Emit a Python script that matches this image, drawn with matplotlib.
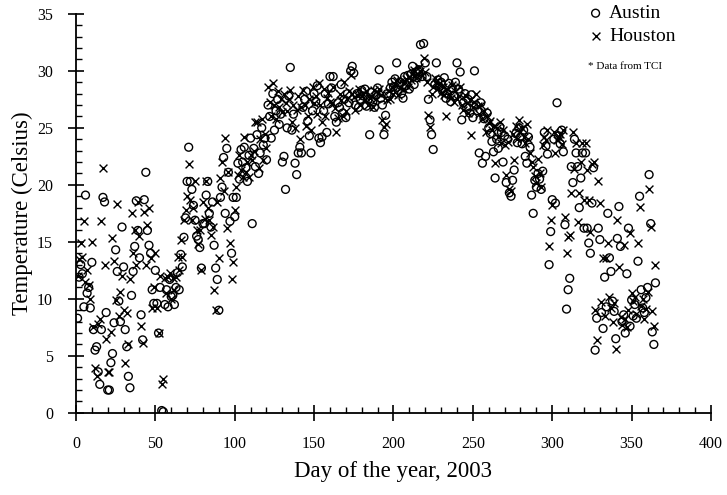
import numpy as np
import matplotlib
matplotlib.use("Agg")
import matplotlib.pyplot as plt
from matplotlib.ticker import MultipleLocator

plt.rcParams["font.family"] = ["Liberation Serif", "DejaVu Serif"]

days = np.arange(1, 366)

# daily temperatures (deg C), ten days per row
austin = [
    8.3, 11.9, 13.0, 12.2, 9.3, 19.1, 10.5, 11.0, 9.2, 13.2,
    7.3, 5.5, 5.8, 3.6, 2.5, 7.3, 18.9, 18.5, 8.8, 2.0,
    2.0, 4.4, 5.2, 7.9, 14.3, 12.4, 9.8, 8.0, 16.3, 12.8,
    7.3, 5.8, 3.2, 2.2, 10.3, 12.4, 14.6, 18.6, 16.0, 13.6,
    8.6, 6.4, 18.7, 21.1, 16.0, 14.7, 14.0, 10.8, 9.6, 12.5,
    9.6, 7.0, 11.0, 0.2, 0.1, 9.5, 10.8, 9.3, 11.7, 10.2,
    10.3, 9.5, 11.0, 12.3, 10.8, 13.9, 12.8, 15.4, 17.1, 20.3,
    23.3, 20.3, 19.6, 18.2, 16.9, 15.5, 15.2, 14.5, 12.7, 16.6,
    16.6, 19.1, 20.3, 17.5, 16.3, 18.5, 14.7, 12.7, 11.7, 9.0,
    18.9, 19.8, 22.4, 17.5, 23.2, 21.1, 16.8, 14.0, 18.9, 17.2,
    18.9, 21.9, 20.5, 23.1, 22.0, 23.3, 21.5, 20.3, 22.6, 24.1,
    16.6, 23.2, 21.6, 24.4, 21.0, 22.8, 25.0, 23.5, 24.1, 22.2,
    27.0, 26.0, 24.1, 28.0, 24.8, 26.5, 27.5, 25.3, 26.2, 22.0,
    22.5, 19.6, 25.0, 27.8, 30.3, 24.8, 26.2, 21.9, 20.9, 22.8,
    23.3, 22.8, 26.8, 27.5, 28.2, 25.6, 24.3, 22.8, 26.5, 28.0,
    27.3, 28.7, 24.1, 23.7, 24.2, 26.5, 28.0, 24.6, 27.1, 29.5,
    28.5, 29.5, 26.0, 25.5, 27.2, 26.8, 28.8, 26.3, 27.5, 25.9,
    28.0, 27.2, 30.0, 30.4, 29.8, 27.0, 28.0, 26.8, 27.5, 28.3,
    27.8, 28.4, 26.9, 27.5, 24.4, 28.1, 27.3, 26.8, 27.9, 28.5,
    30.1, 27.6, 27.0, 24.4, 26.1, 28.0, 27.8, 28.5, 29.0, 28.6,
    29.3, 30.7, 28.3, 29.0, 28.0, 27.6, 29.5, 28.7, 29.6, 28.4,
    29.7, 30.4, 28.8, 29.9, 29.4, 30.1, 32.3, 29.5, 32.4, 30.7,
    29.5, 27.5, 25.7, 24.4, 23.1, 28.8, 30.7, 29.2, 28.6, 29.0,
    28.2, 29.4, 27.6, 28.0, 28.9, 27.3, 28.5, 27.8, 29.0, 30.7,
    28.4, 29.9, 25.7, 27.2, 28.0, 26.8, 27.5, 26.3, 27.9, 25.9,
    30.0, 27.0, 26.5, 22.8, 27.2, 21.9, 25.8, 22.5, 26.3, 25.0,
    24.5, 23.8, 22.9, 20.6, 24.0, 23.2, 25.1, 24.6, 22.0, 24.3,
    20.2, 24.0, 19.3, 19.0, 20.4, 21.3, 24.5, 23.7, 25.0, 24.2,
    23.6, 24.8, 22.5, 21.9, 24.2, 23.3, 19.1, 17.5, 20.4, 19.8,
    21.0, 20.5, 19.6, 21.2, 24.6, 23.4, 22.7, 13.0, 15.9, 18.7,
    24.0, 18.4, 27.2, 24.3, 23.6, 24.8, 22.9, 16.5, 9.1, 10.8,
    11.8, 21.6, 20.2, 24.0, 22.8, 21.6, 18.0, 20.6, 22.8, 16.2,
    22.8, 16.2, 14.9, 14.0, 18.4, 21.5, 5.5, 8.3, 16.2, 15.2,
    8.8, 7.4, 11.9, 9.3, 17.5, 13.6, 12.4, 9.8, 8.9, 6.5,
    15.3, 18.1, 14.6, 8.0, 8.6, 7.0, 12.2, 16.2, 7.6, 9.9,
    8.5, 9.5, 8.3, 13.3, 19.0, 10.8, 9.2, 8.8, 10.1, 11.0,
    20.9, 16.6, 7.1, 6.0, 11.4,
]

houston = [
    12.0, 13.5, 14.9, 13.7, 16.8, 11.5, 12.5, 11.2, 10.0, 15.0,
    7.5, 3.9, 3.2, 7.8, 8.2, 16.8, 21.5, 13.0, 6.5, 3.6,
    3.6, 7.1, 15.3, 13.3, 9.9, 18.3, 8.5, 10.6, 12.0, 9.0,
    4.4, 8.8, 6.0, 11.7, 17.5, 14.0, 16.0, 13.0, 18.5, 15.5,
    7.6, 6.1, 17.6, 13.0, 16.5, 18.0, 13.6, 9.2, 11.0, 14.0,
    9.2, 7.0, 12.0, 2.5, 3.0, 11.8, 10.5, 11.9, 12.3, 10.0,
    11.8, 10.8, 11.9, 13.7, 12.5, 15.2, 13.7, 16.9, 17.8, 19.0,
    21.8, 18.7, 16.9, 18.0, 20.3, 16.0, 14.8, 16.0, 12.5, 18.5,
    17.0, 20.3, 18.0, 16.9, 15.6, 16.3, 10.8, 9.0, 18.5, 13.6,
    20.6, 22.0, 19.5, 24.1, 16.2, 21.1, 14.9, 11.7, 13.2, 17.8,
    19.8, 20.9, 22.6, 21.3, 20.7, 24.2, 21.1, 22.0, 20.7, 22.6,
    22.2, 23.0, 25.5, 25.5, 21.5, 24.0, 25.8, 22.2, 24.5, 23.2,
    28.6, 27.3, 26.0, 28.9, 27.0, 25.8, 28.2, 26.8, 27.5, 26.4,
    28.0, 27.2, 26.5, 27.5, 28.3, 25.5, 27.0, 25.0, 26.6, 27.8,
    24.0, 26.8, 28.3, 27.0, 25.2, 26.0, 27.5, 24.8, 28.6, 27.2,
    27.8, 26.2, 28.9, 27.0, 25.5, 28.4, 26.0, 27.6, 28.1, 27.3,
    27.2, 28.6, 26.7, 24.6, 25.9, 28.0, 27.4, 26.0, 29.0, 26.5,
    27.5, 28.2, 29.6, 28.0, 27.7, 26.6, 27.9, 28.4, 27.0, 27.8,
    28.0, 27.4, 28.2, 27.0, 27.6, 27.8, 26.8, 28.3, 27.5, 28.1,
    28.4, 27.9, 25.7, 25.1, 25.3, 27.4, 28.2, 27.5, 28.6, 28.0,
    28.8, 29.2, 27.9, 28.5, 29.1, 28.4, 29.0, 29.3, 28.6, 29.5,
    29.2, 29.8, 30.1, 29.4, 29.7, 30.3, 30.0, 29.6, 31.1, 29.9,
    29.0, 26.1, 25.1, 28.0, 28.6, 29.4, 29.0, 28.5, 28.9, 28.1,
    28.6, 27.9, 26.0, 28.4, 28.0, 27.6, 28.8, 27.3, 28.2, 27.5,
    27.8, 28.6, 27.0, 26.6, 27.9, 27.2, 26.3, 27.4, 24.4, 26.8,
    27.3, 28.0, 26.9, 26.2, 27.0, 25.8, 26.5, 24.6, 26.0, 25.4,
    25.6, 24.8, 25.2, 21.9, 25.0, 24.2, 25.5, 23.7, 24.8, 23.5,
    20.9, 23.8, 19.6, 19.5, 24.5, 22.2, 25.2, 24.0, 25.7, 24.6,
    25.0, 24.2, 23.7, 25.3, 24.0, 22.8, 22.0, 21.6, 20.8, 20.2,
    22.3, 21.0, 19.8, 23.5, 24.2, 23.9, 24.8, 14.6, 16.9, 18.2,
    24.6, 22.8, 23.9, 24.2, 24.5, 23.6, 24.8, 17.2, 14.0, 15.4,
    15.6, 19.3, 24.6, 21.4, 23.7, 16.7, 19.3, 22.0, 23.7, 18.7,
    23.7, 21.3, 18.7, 15.9, 21.8, 22.0, 9.0, 6.4, 20.3, 18.4,
    9.7, 13.6, 8.5, 13.6, 14.9, 10.2, 9.2, 8.0, 9.6, 5.6,
    16.9, 12.8, 8.4, 7.7, 14.7, 8.2, 7.5, 9.0, 15.8, 10.5,
    9.8, 10.2, 8.7, 14.9, 18.1, 9.4, 10.0, 8.2, 9.1, 10.6,
    19.6, 16.3, 8.9, 7.6, 13.0,
]

fig = plt.figure(figsize=(7.27, 4.95), dpi=100)
ax = fig.add_axes([0.1045, 0.166, 0.8735, 0.806])

ax.scatter(days, austin, s=32, marker="o", facecolors="none",
           edgecolors="black", linewidths=1.0, label="Austin")
ax.scatter(days, houston, s=32, marker="x", color="black",
           linewidths=1.0, label="Houston")

ax.set_xlim(0, 400)
ax.set_ylim(0, 35)
ax.xaxis.set_major_locator(MultipleLocator(50))
ax.xaxis.set_minor_locator(MultipleLocator(10))
ax.yaxis.set_major_locator(MultipleLocator(5))
ax.yaxis.set_minor_locator(MultipleLocator(1))

for side in ["top", "right"]:
    ax.spines[side].set_visible(False)
for side in ["left", "bottom"]:
    ax.spines[side].set_linewidth(1.3)

ax.tick_params(which="major", direction="inout", length=11, width=1.2,
               labelsize=11.5)
ax.tick_params(which="minor", direction="in", length=4, width=1.0)
ax.tick_params(axis="x", which="major", pad=11)
ax.tick_params(axis="y", which="major", pad=11)

ax.set_xlabel("Day of the year, 2003", fontsize=16.5, labelpad=7)
ax.set_ylabel("Temperature (Celsius)", fontsize=16.5, labelpad=3)

ax.legend(loc="upper left", bbox_to_anchor=(0.806, 1.023), frameon=False,
          fontsize=14, handlelength=0.8, handletextpad=0.3,
          labelspacing=0.25, borderpad=0, borderaxespad=0)
ax.text(0.806, 0.867, "* Data from TCI", transform=ax.transAxes,
        fontsize=8, va="center")

fig.savefig("out.png", dpi=100)
